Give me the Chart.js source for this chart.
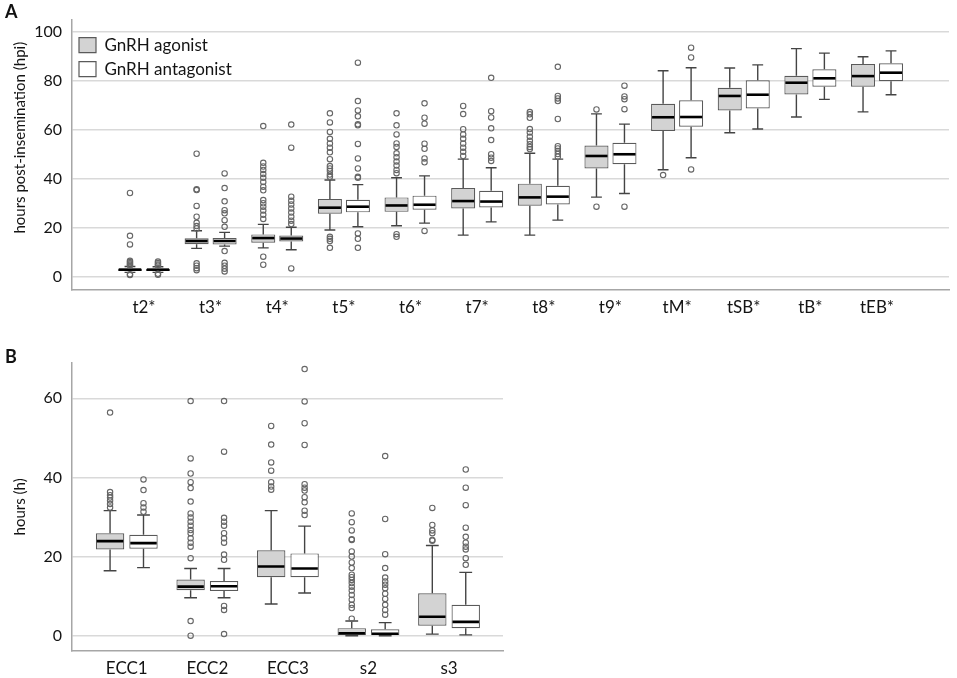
<!DOCTYPE html>
<html>
<head>
<meta charset="utf-8">
<script src="https://cdn.jsdelivr.net/npm/chart.js@4.4.0/dist/chart.umd.min.js"></script>
<style>
  html, body { margin: 0; padding: 0; background: #fff; }
  body { width: 957px; height: 678px; position: relative; overflow: hidden; font-family: Lato, sans-serif; }
  .panel { position: absolute; left: 0; }
  #wrapA { top: 0; width: 957px; height: 320px; }
  #wrapB { top: 320px; width: 520px; height: 358px; }
  .tag { position: absolute; font-weight: bold; font-size: 18px; color: #111; z-index: 2; }
</style>
</head>
<body>
<div class="panel" id="wrapA"><canvas id="chartA"></canvas></div>
<div class="panel" id="wrapB"><canvas id="chartB"></canvas></div>
<div class="tag" style="left:5px;top:0px">A</div>
<div class="tag" style="left:5px;top:345px">B</div>
<script>
// ---- panel A: time points (hpi) ----
const catsA = ["t2*", "t3*", "t4*", "t5*", "t6*", "t7*", "t8*", "t9*", "tM*", "tSB*", "tB*", "tEB*"];
const yTicksA = [0, 20, 40, 60, 80, 100];

const agoLoA  = [1.8, 11.6, 11.8, 19.1, 20.8, 17.0, 17.0, 32.5, 43.7, 58.8, 65.2, 67.3];
const agoQ1A  = [2.4, 13.3, 13.9, 25.7, 26.5, 27.9, 29.0, 44.2, 59.5, 67.9, 74.4, 77.6];
const agoMedA = [2.9, 14.6, 15.8, 28.2, 29.1, 30.9, 32.4, 49.3, 65.1, 73.8, 79.2, 81.9];
const agoQ3A  = [3.4, 15.7, 17.3, 31.7, 32.4, 36.2, 38.0, 53.6, 70.6, 77.1, 82.0, 86.8];
const agoHiA  = [4.2, 18.8, 21.4, 39.5, 40.4, 48.0, 50.4, 66.5, 84.1, 85.2, 93.1, 89.8];
const agoOutA = [
    [34.2, 16.7, 13.2, 6.5, 6.0, 5.5, 5.0, 4.6, 1.0, 0.7],
    [50.2, 35.7, 35.4, 28.9, 24.5, 22.0, 20.7, 19.7, 5.5, 4.5, 3.5, 2.7],
    [61.5, 46.5, 45.0, 43.6, 41.9, 40.4, 38.7, 36.7, 35.3, 31.3, 30.0, 28.6, 27.0, 25.3, 23.6, 8.2, 4.9],
    [66.7, 63.0, 59.1, 56.3, 54.4, 52.7, 50.8, 48.0, 45.2, 44.2, 43.2, 41.7, 40.8, 16.3, 15.5, 14.6, 11.8],
    [66.7, 61.8, 58.1, 54.4, 53.0, 50.4, 48.8, 47.0, 45.4, 43.6, 42.3, 17.4, 16.3],
    [69.7, 66.4, 60.2, 58.1, 56.3, 54.4, 52.7, 51.0, 49.3],
    [67.2, 66.3, 64.9, 60.3, 58.9, 57.1, 55.5, 54.1, 53.0, 52.1],
    [68.3, 28.6],
    [41.5],
    [],
    [],
    [],
];

const antLoA  = [1.8, 12.5, 11.0, 20.4, 21.9, 22.4, 23.1, 34.0, 48.6, 60.3, 72.4, 74.3];
const antQ1A  = [2.4, 13.2, 14.4, 26.3, 27.4, 28.3, 29.5, 45.9, 61.2, 68.7, 77.6, 79.8];
const antMedA = [2.9, 14.6, 15.6, 28.6, 29.4, 30.7, 32.7, 50.0, 65.2, 74.3, 81.0, 83.3];
const antQ3A  = [3.3, 15.8, 16.8, 31.4, 33.1, 35.1, 37.1, 54.7, 72.0, 80.2, 84.7, 87.1];
const antHiA  = [4.1, 18.1, 20.2, 37.6, 41.2, 44.5, 48.0, 62.3, 85.3, 86.5, 91.3, 92.2];
const antOutA = [
    [6.2, 5.6, 5.0, 4.6, 1.2, 0.8],
    [42.2, 36.2, 30.8, 27.2, 25.9, 23.1, 20.4, 10.5, 5.7, 4.5, 3.3, 2.2],
    [62.1, 52.7, 32.7, 31.0, 29.5, 27.9, 26.2, 24.5, 22.9, 21.5, 3.4],
    [87.4, 71.7, 67.9, 65.5, 62.2, 61.8, 54.2, 48.3, 44.2, 40.8, 40.4, 17.7, 15.5, 11.8],
    [70.8, 64.9, 62.5, 54.3, 52.2, 48.3, 46.7, 18.7],
    [81.2, 67.6, 65.0, 60.6, 55.8, 50.0, 48.6, 47.3],
    [85.7, 73.8, 72.8, 71.7, 64.4, 53.3, 52.4, 51.3, 50.1, 49.0],
    [78.0, 73.6, 72.5, 68.4, 28.6],
    [93.5, 89.5, 43.8],
    [],
    [],
    [],
];

// ---- panel B: intervals (h) ----
const catsB = ["ECC1", "ECC2", "ECC3", "s2", "s3"];
const yTicksB = [0, 20, 40, 60];

const agoLoB  = [16.4, 9.6, 8.0, 0.0, 0.4];
const agoQ1B  = [21.8, 11.5, 14.8, 0.2, 2.5];
const agoMedB = [23.9, 12.4, 17.5, 0.6, 4.8];
const agoQ3B  = [25.9, 14.2, 21.6, 1.9, 10.7];
const agoHiB  = [31.6, 17.0, 31.6, 3.7, 22.8];
const agoOutB = [
    [56.4, 36.3, 35.5, 34.9, 34.2, 33.3, 32.4],
    [59.3, 44.8, 41.0, 38.8, 37.3, 33.9, 30.9, 29.9, 28.8, 27.8, 26.7, 25.9, 24.6, 23.5, 22.5, 19.6, 3.7, 0.0],
    [53.0, 48.3, 43.8, 41.7, 38.8, 37.7, 36.9],
    [30.9, 28.7, 26.6, 24.4, 24.2, 21.3, 20.0, 18.5, 17.1, 15.4, 14.8, 14.1, 13.3, 12.4, 11.4, 10.3, 9.1, 7.8, 7.0, 4.3],
    [32.3, 28.0, 26.6, 25.9, 24.2, 24.0],
];

const antLoB  = [17.2, 9.6, 10.8, 0.0, 0.2];
const antQ1B  = [22.0, 11.3, 14.8, 0.2, 1.9];
const antMedB = [23.4, 12.5, 17.0, 0.5, 3.5];
const antQ3B  = [25.5, 13.8, 20.8, 1.6, 7.8];
const antHiB  = [30.5, 17.0, 27.7, 3.3, 16.0];
const antOutB = [
    [39.5, 36.8, 33.5, 32.4, 31.3],
    [59.3, 46.5, 29.8, 28.8, 27.8, 25.9, 24.6, 23.5, 20.5, 19.2, 7.5, 6.5, 0.4],
    [67.4, 59.2, 53.7, 48.2, 38.3, 37.4, 36.7, 35.0, 33.7, 31.6, 30.5],
    [45.4, 29.5, 20.6, 17.1, 14.7, 13.7, 12.9, 12.0, 10.6, 9.3, 7.8, 6.5, 5.3],
    [42.0, 37.4, 33.0, 27.3, 25.0, 23.5, 22.5, 21.8, 19.6, 17.9],
];

Chart.defaults.font.family = "Lato, 'Open Sans', sans-serif";
Chart.defaults.font.size = 16;
Chart.defaults.color = "#141414";

// whiskers, medians and outliers are drawn on top of the floating bars (the boxes)
const boxParts = {
    id: "boxParts",
    afterDatasetsDraw(chart) {
        const ctx = chart.ctx;
        const yScale = chart.scales.y;
        const area = chart.chartArea;
        ctx.save();
        ctx.beginPath();
        ctx.rect(area.left, area.top, area.right - area.left, area.bottom - area.top);
        ctx.clip();
        chart.data.datasets.forEach((ds, d) => {
            const meta = chart.getDatasetMeta(d);
            meta.data.forEach((bar, i) => {
                const x = bar.x;
                const w = bar.width;
                const cap = w * 0.45;
                const yQ1 = yScale.getPixelForValue(ds.data[i].y[0]);
                const yQ3 = yScale.getPixelForValue(ds.data[i].y[1]);
                const yLo = yScale.getPixelForValue(ds.lo[i]);
                const yHi = yScale.getPixelForValue(ds.hi[i]);
                const yMed = yScale.getPixelForValue(ds.med[i]);

                ctx.strokeStyle = "#444";
                ctx.lineWidth = 1.4;
                ctx.beginPath();
                ctx.moveTo(x, yQ3);
                ctx.lineTo(x, yHi);
                ctx.moveTo(x - cap / 2, yHi);
                ctx.lineTo(x + cap / 2, yHi);
                ctx.moveTo(x, yQ1);
                ctx.lineTo(x, yLo);
                ctx.moveTo(x - cap / 2, yLo);
                ctx.lineTo(x + cap / 2, yLo);
                ctx.stroke();

                ctx.strokeStyle = "#000";
                ctx.lineWidth = 2.6;
                ctx.beginPath();
                ctx.moveTo(x - w / 2 + 1, yMed);
                ctx.lineTo(x + w / 2 - 1, yMed);
                ctx.stroke();

                ctx.strokeStyle = "#666";
                ctx.lineWidth = 1.1;
                ds.out[i].forEach((v) => {
                    ctx.beginPath();
                    ctx.arc(x, yScale.getPixelForValue(v), 2.7, 0, Math.PI * 2);
                    ctx.stroke();
                });
            });
        });
        ctx.restore();
    },
};

function boxDataset(label, cats, lo, q1, med, q3, hi, out, fill, catPct, barPct) {
    return {
        label: label,
        data: cats.map((c, i) => ({ x: i, y: [q1[i], q3[i]] })),
        lo: lo,
        med: med,
        hi: hi,
        out: out,
        backgroundColor: fill,
        borderColor: "#5a5a5a",
        borderWidth: 1.2,
        borderSkipped: false,
        categoryPercentage: catPct,
        barPercentage: barPct,
    };
}

function boxChart(id, cats, yTicks, datasets, s) {
    return new Chart(document.getElementById(id), {
        type: "bar",
        data: { datasets: datasets },
        plugins: [boxParts],
        options: {
            responsive: true,
            maintainAspectRatio: false,
            animation: false,
            events: [],
            layout: { padding: s.padding },
            plugins: {
                tooltip: { enabled: false },
                legend: s.legend,
            },
            scales: {
                x: {
                    type: "linear",
                    offset: false,
                    min: s.xMin,
                    max: s.xMax,
                    afterBuildTicks: (ax) => { ax.ticks = cats.map((c, i) => ({ value: i })); },
                    afterFit: (ax) => { ax.height = s.xHeight; },
                    grid: { display: false, drawTicks: false },
                    border: { display: true, color: "#a6a6a6", width: 1.5 },
                    ticks: {
                        padding: 7,
                        autoSkip: false,
                        maxRotation: 0,
                        font: { size: 17 },
                        callback: (v) => cats[v],
                    },
                },
                y: {
                    min: s.yMin,
                    max: s.yMax,
                    afterBuildTicks: (ax) => { ax.ticks = yTicks.map((v) => ({ value: v })); },
                    afterFit: (ax) => {
                        ax.width = 72;
                        ax.paddingTop = 0;
                        ax.paddingBottom = 0;
                    },
                    grid: { color: "#d9d9d9", lineWidth: 1.5, drawTicks: false },
                    border: { display: true, color: "#a6a6a6", width: 1.5 },
                    ticks: { padding: 10 },
                    title: {
                        display: true,
                        text: s.yTitle,
                        font: { size: 15 },
                        padding: { top: 11, bottom: 0 },
                    },
                },
            },
        },
    });
}

boxChart("chartA", catsA, yTicksA, [
    boxDataset("GnRH agonist", catsA, agoLoA, agoQ1A, agoMedA, agoQ3A, agoHiA, agoOutA, "#d3d3d3", 0.84, 0.86),
    boxDataset("GnRH antagonist", catsA, antLoA, antQ1A, antMedA, antQ3A, antHiA, antOutA, "#ffffff", 0.84, 0.86),
], {
    padding: { left: 0, top: 20, right: 8, bottom: 0 },
    xMin: -1.08, xMax: 12.08, xHeight: 30,
    yMin: -5.4, yMax: 104.8,
    // leading spaces nudge the centred title upwards, as in the original figure
    yTitle: "         hours post-insemination (hpi)",
    legend: {
        position: "chartArea",
        align: "start",
        title: { display: true, text: " ", font: { size: 8 }, padding: { top: 20, bottom: 0 } },
        labels: { boxWidth: 17, boxHeight: 15, padding: 7, font: { size: 17 } },
    },
});

boxChart("chartB", catsB, yTicksB, [
    boxDataset("GnRH agonist", catsB, agoLoB, agoQ1B, agoMedB, agoQ3B, agoHiB, agoOutB, "#d3d3d3", 0.83, 0.85),
    boxDataset("GnRH antagonist", catsB, antLoB, antQ1B, antMedB, antQ3B, antHiB, antOutB, "#ffffff", 0.83, 0.85),
], {
    padding: { left: 0, top: 42.7, right: 17, bottom: 0 },
    xMin: -0.68, xMax: 4.67, xHeight: 27,
    yMin: -3.87, yMax: 69.0,
    yTitle: "hours (h)",
    legend: { display: false },
});
</script>
</body>
</html>
